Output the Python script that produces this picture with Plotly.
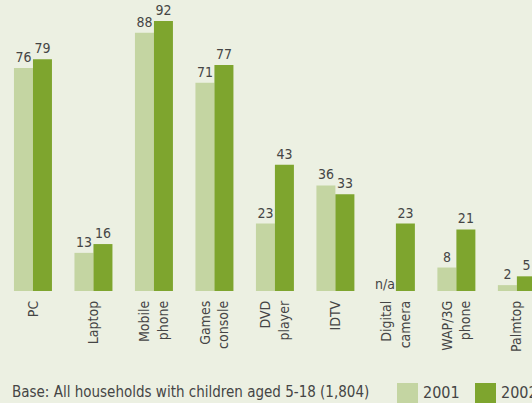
import plotly.graph_objects as go

categories = ["PC", "Laptop", "Mobile<br>phone", "Games<br>console", "DVD<br>player",
              "IDTV", "Digital<br>camera", "WAP/3G<br>phone", "Palmtop"]
values_2001 = [76, 13, 88, 71, 23, 36, None, 8, 2]
values_2002 = [79, 16, 92, 77, 43, 33, 23, 21, 5]
series_names = ["2001", "2002"]
footnote = "Base: All households with children aged 5-18 (1,804)"

LIGHT = "#c4d5a2"
DARK = "#7ea52e"
BG = "#ecf0e2"
TXT = "#454545"
FONT = "DejaVu Sans Condensed, Liberation Sans Narrow, Arial Narrow, sans-serif"

W, H = 532, 403
plot_h = 291

fig = go.Figure()
for name, vals, col in [(series_names[0], values_2001, LIGHT), (series_names[1], values_2002, DARK)]:
    fig.add_trace(go.Bar(
        x=categories, y=vals, name=name, marker=dict(color=col, line=dict(width=0)),
        text=[("" if v is None else str(v)) for v in vals],
        textposition="outside", cliponaxis=False,
        textfont=dict(family=FONT, size=14, color=TXT),
        showlegend=False, hoverinfo="skip",
    ))

# n/a marker for missing 2001 value
na_idx = values_2001.index(None)
fig.add_annotation(x=categories[na_idx], y=0, text="n/a", showarrow=False,
                   xshift=-11, yanchor="bottom", yshift=-3,
                   font=dict(family=FONT, size=14, color=TXT))

def px_x(p):
    return p / W

def px_y(p):
    return (plot_h - p) / plot_h

fig.add_annotation(xref="paper", yref="paper", x=px_x(10), y=px_y(392), text=footnote,
                   showarrow=False, xanchor="left", yanchor="middle",
                   font=dict(family=FONT, size=15, color=TXT))
for (x0, col, lab) in [(397, LIGHT, series_names[0]), (475, DARK, series_names[1])]:
    fig.add_shape(type="rect", xref="paper", yref="paper",
                  x0=px_x(x0), x1=px_x(x0 + 21), y0=px_y(383), y1=px_y(404),
                  fillcolor=col, line=dict(width=0))
    fig.add_annotation(xref="paper", yref="paper", x=px_x(x0 + 24), y=px_y(392), text=lab,
                       showarrow=False, xanchor="left", yanchor="middle",
                       font=dict(family=FONT, size=16, color=TXT))

fig.update_layout(
    width=W, height=H,
    margin=dict(l=0, r=0, t=0, b=H - plot_h, pad=0),
    paper_bgcolor=BG, plot_bgcolor=BG,
    barmode="group", bargap=0.372, bargroupgap=0,
    font=dict(family=FONT, size=14, color=TXT),
    xaxis=dict(type="category", range=[-0.545, 8.25], tickangle=-90, showline=False,
               showgrid=False, zeroline=False, ticks="", ticklabelstandoff=6,
               tickfont=dict(family=FONT, size=14, color=TXT)),
    yaxis=dict(range=[0, 99.2], visible=False, showgrid=False, zeroline=False),
)

fig.write_html("out.html", config={"displayModeBar": False},
               post_script="document.body.style.margin='0';document.body.style.background='%s';" % BG)
